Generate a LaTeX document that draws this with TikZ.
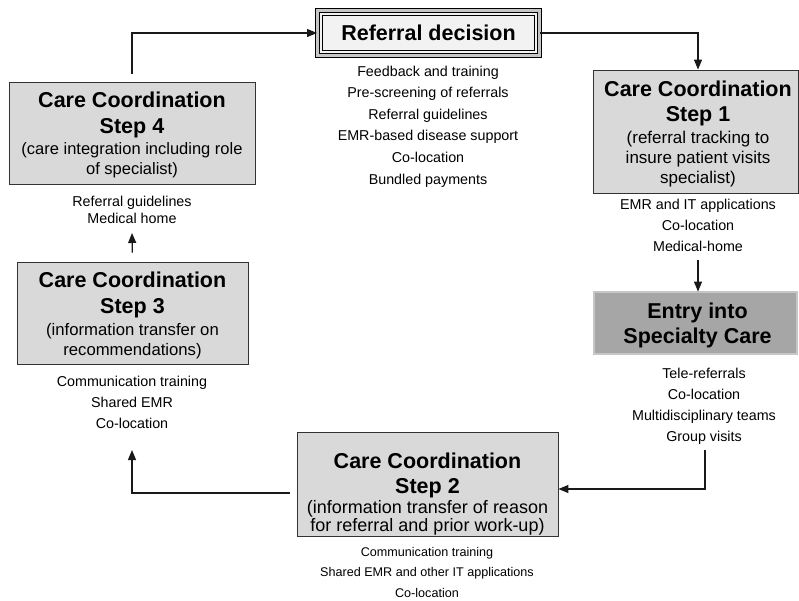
\documentclass[tikz,border=0pt]{standalone}
\usepackage{fontspec}
\setmainfont{Liberation Sans}
\usetikzlibrary{arrows.meta,calc}
\newcommand\fTitle{\fontsize{21.5}{25}\selectfont\bfseries}
\newcommand\fSub{\fontsize{17}{20}\selectfont}
\newcommand\fSubA{\fontsize{16.5}{20}\selectfont}
\newcommand\fSubB{\fontsize{16.7}{20}\selectfont}
\newcommand\fSubC{\fontsize{18}{20}\selectfont}
\newcommand\fItem{\fontsize{14.3}{17}\selectfont}
\newcommand\fItemS{\fontsize{12.6}{15}\selectfont}
\newcommand\txtlines[6]{\foreach \mytext [count=\i] in {#6}{\node[txt, font=#5] (#1-\i) at (#2,{#3+(\i-1)*#4}) {\mytext};}}
\begin{document}
\begin{tikzpicture}[x=1pt,y=-1pt,
  txt/.style={anchor=base, inner sep=0pt, text=black},
  stepbox/.style={draw=black!80, line width=0.9pt, fill=gray!30, inner sep=0pt},
  refbox/.style={draw=black, line width=1pt, double=gray!45, double distance=2.6pt, fill=gray!10, inner sep=0pt},
  entrybox/.style={draw=black!85, line width=0.8pt, double=gray!45, double distance=1.2pt, fill=gray!70, inner sep=0pt},
  conn/.style={draw=black!90, line width=1.2pt, -{Triangle[length=10pt,width=8pt]}},
  plain/.style={draw=black!90, line width=1.2pt}]
\useasboundingbox (0,0) rectangle (799,600);
\fill[white] (0,0) rectangle (799,600);
% boxes
\node[refbox, minimum width=222pt, minimum height=45pt] (ref) at (428.5,33) {};
\draw[black, line width=0.6pt] ($(ref.south west)+(5.5,-5.5)$) rectangle ($(ref.north east)+(-5.5,5.5)$);
\node[stepbox, minimum width=205pt, minimum height=123pt] (s1) at (695.5,131.5) {};
\node[entrybox, minimum width=203pt, minimum height=62pt] (entry) at (695.5,323) {};
\node[stepbox, minimum width=246pt, minimum height=102pt] (s4) at (132,133) {};
\node[stepbox, minimum width=231pt, minimum height=102pt] (s3) at (132.5,313) {};
\node[stepbox, minimum width=261pt, minimum height=104pt] (s2) at (427.5,484) {};
% texts
\node[txt, font=\fTitle] (ref-t) at (428.5,40.5) {Referral decision};
\txtlines{refi}{428}{76}{21.6}{\fItem}{{Feedback and training},{Pre-screening of referrals},{Referral guidelines},{EMR-based disease support},{Co-location},{Bundled payments}}
\txtlines{s1t}{698}{96.7}{25}{\fTitle}{{Care Coordination},{Step 1}}
\txtlines{s1s}{698}{143}{20}{\fSub}{{(referral tracking to},{insure patient visits},{specialist)}}
\txtlines{s1i}{698}{209}{21.3}{\fItem}{{EMR and IT applications},{Co-location},{Medical-home}}
\txtlines{ent}{697.5}{318.3}{25}{\fTitle}{{Entry into},{Specialty Care}}
\txtlines{enti}{704}{378}{21}{\fItem}{{Tele-referrals},{Co-location},{Multidisciplinary teams},{Group visits}}
\txtlines{s4t}{132}{107.3}{26}{\fTitle}{{Care Coordination},{Step 4}}
\txtlines{s4s}{132}{154.3}{20}{\fSubA}{{(care integration including role},{of specialist)}}
\txtlines{s4i}{132}{206.7}{17}{\fItem}{{Referral guidelines},{Medical home}}
\txtlines{s3t}{132.5}{287.3}{26}{\fTitle}{{Care Coordination},{Step 3}}
\txtlines{s3s}{132.5}{335}{20}{\fSubB}{{(information transfer on},{recommendations)}}
\txtlines{s3i}{132}{386.7}{21}{\fItem}{{Communication training},{Shared EMR},{Co-location}}
\txtlines{s2t}{427.5}{468.3}{25}{\fTitle}{{Care Coordination},{Step 2}}
\txtlines{s2s}{427.5}{513}{18}{\fSubC}{{(information transfer of reason},{for referral and prior work-up)}}
\txtlines{s2i}{427}{556}{20.5}{\fItemS}{{Communication training},{Shared EMR and other IT applications},{Co-location}}
% free ends
\coordinate (c1) at (698,260);
\coordinate (c2) at (705,450);
\coordinate (c3) at (132,450);
\coordinate (c4) at (132,233);
% connectors
\draw[conn, shorten <=8pt] (s4.north) |- (ref.west);
\draw[conn] (ref.east) -| ([xshift=2.5pt]s1.north);
\draw[conn] (c1) -- ([xshift=2.5pt]entry.north);
\draw[conn] (c2) |- ($(s2.east)+(0,5)$);
\draw[conn, shorten <=7pt] ($(s2.west)+(0,9)$) -| (c3);
\draw[conn, shorten <=9pt] (s3.north) -- (c4);
\end{tikzpicture}
\end{document}
